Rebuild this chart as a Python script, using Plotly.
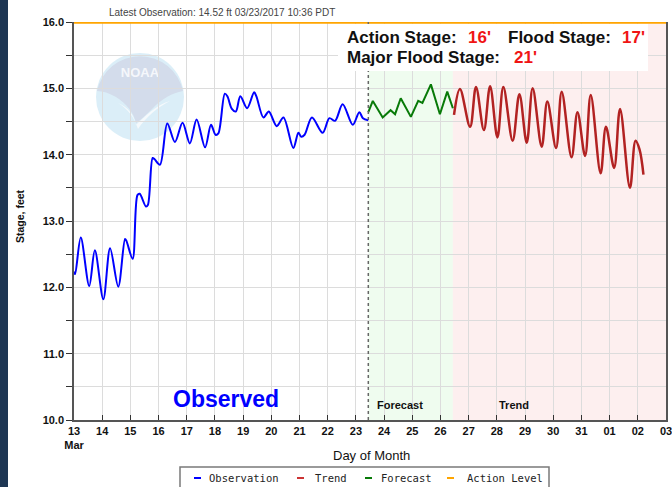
import base64
import pandas as pd
import plotly.graph_objects as go

# ---------------- data ----------------
base_date = pd.Timestamp("2017-03-13")

obs_day = [0.00, 0.04, 0.24, 0.54, 0.74, 1.04, 1.28, 1.57, 1.81, 1.86, 2.08, 2.25, 2.33,
           2.55, 2.62, 2.79, 2.86, 3.05, 3.31, 3.58, 3.85, 4.11, 4.35, 4.65, 4.86, 5.02,
           5.12, 5.35, 5.44, 5.60, 5.74, 5.90, 6.14, 6.39, 6.47, 6.72, 6.91, 7.19, 7.43,
           7.78, 7.96, 8.06, 8.18, 8.44, 8.82, 9.06, 9.26, 9.53, 9.89, 10.12, 10.25, 10.44]
obs_stage = [12.24, 12.20, 12.75, 12.02, 12.56, 11.82, 12.59, 12.01, 12.73, 12.70, 12.43,
             13.39, 13.41, 13.22, 13.24, 13.95, 13.93, 13.85, 14.47, 14.19, 14.48, 14.17,
             14.53, 14.11, 14.45, 14.30, 14.32, 14.92, 14.88, 14.69, 14.65, 14.88, 14.70,
             14.94, 14.88, 14.56, 14.65, 14.43, 14.56, 14.10, 14.33, 14.27, 14.30, 14.56,
             14.33, 14.55, 14.51, 14.76, 14.45, 14.64, 14.55, 14.52]

fc_day = [10.44, 10.60, 10.95, 11.23, 11.39, 11.59, 11.95, 12.21, 12.36, 12.66, 12.98, 13.24, 13.44]
fc_stage = [14.64, 14.81, 14.56, 14.67, 14.61, 14.85, 14.57, 14.81, 14.78, 15.06, 14.61, 14.95, 14.70]

tr_day = [13.48, 13.69, 14.05, 14.26, 14.54, 14.76, 15.02, 15.23, 15.56, 15.80, 16.06, 16.27,
          16.59, 16.79, 17.10, 17.30, 17.65, 17.86, 18.13, 18.33, 18.68, 18.87, 19.16, 19.37,
          19.72, 19.92, 20.06, 20.20]
tr_stage = [14.60, 14.99, 14.42, 15.02, 14.37, 15.03, 14.26, 15.02, 14.21, 14.91, 14.18, 15.00,
            14.12, 14.80, 14.10, 14.95, 13.96, 14.64, 13.98, 14.90, 13.72, 14.42, 13.80, 14.69,
            13.50, 14.21, 14.08, 13.70]

action_stage = 16
flood_stage = 17
major_flood_stage = 21
axis_days = 21  # Mar 13 -> Apr 3
tick_labels = ["13<br>Mar", "14", "15", "16", "17", "18", "19", "20", "21", "22", "23", "24",
               "25", "26", "27", "28", "29", "30", "31", "01", "02", "03"]
y_ticks = [10.0, 10.5, 11.0, 11.5, 12.0, 12.5, 13.0, 13.5, 14.0, 14.5, 15.0, 15.5, 16.0]


def to_dt(days):
    return [base_date + pd.Timedelta(days=d) for d in days]


x_end = base_date + pd.Timedelta(days=axis_days)
obs_end = to_dt([obs_day[-1]])[0]
fc_end = to_dt([fc_day[-1]])[0]

# ---------------- layout geometry (pixels) ----------------
W, H = 672, 487
L, R, T, B = 74, 6, 22, 67
PW, PH = W - L - R, H - T - B


def px(xp):
    return (xp - L) / PW


def py(yp):
    return (H - B - yp) / PH


fig = go.Figure()

fig.add_trace(go.Scatter(x=to_dt(obs_day), y=obs_stage, mode="lines", name="Observation",
                         line=dict(color="#0000ff", width=2, shape="spline", smoothing=0.9)))
fig.add_trace(go.Scatter(x=to_dt(fc_day), y=fc_stage, mode="lines", name="Forecast",
                         line=dict(color="#087a08", width=2)))
fig.add_trace(go.Scatter(x=to_dt(tr_day), y=tr_stage, mode="lines", name="Trend",
                         line=dict(color="#b22222", width=2.5, shape="spline", smoothing=1.0)))
fig.add_trace(go.Scatter(x=[base_date, x_end], y=[action_stage, action_stage], mode="lines",
                         name="Action Level", line=dict(color="#ffa500", width=3.5)))

shapes = []
shapes.append(dict(type="rect", xref="x", yref="paper", x0=obs_end, x1=fc_end, y0=0, y1=1,
                   fillcolor="#effcef", line=dict(width=0), layer="below"))
shapes.append(dict(type="rect", xref="x", yref="paper", x0=fc_end, x1=x_end, y0=0, y1=1,
                   fillcolor="#fdefef", line=dict(width=0), layer="below"))
shapes.append(dict(type="line", xref="x", yref="paper", x0=obs_end, x1=obs_end, y0=0, y1=1,
                   line=dict(color="#666666", width=1.5, dash="dot"), layer="above"))
shapes.append(dict(type="rect", xref="paper", yref="paper", x0=px(338), x1=px(648),
                   y0=py(71), y1=py(24), fillcolor="white", line=dict(width=0), layer="above"))
shapes.append(dict(type="rect", xref="paper", yref="paper", x0=px(0), x1=px(8),
                   y0=py(H), y1=py(0), fillcolor="#1e3653", line=dict(width=0), layer="above"))
shapes.append(dict(type="rect", xref="paper", yref="paper", x0=px(180), x1=px(549),
                   y0=py(492), y1=py(467), fillcolor="white",
                   line=dict(color="#7a7a7a", width=1.5), layer="above"))
leg_items = [("Observation", "#0000ff", 194, 207), ("Trend", "#cc3333", 297, 313),
             ("Forecast", "#087a08", 365, 379), ("Action Level", "#ffa500", 447, 465)]
for _, c, lx, _tx in leg_items:
    shapes.append(dict(type="line", xref="paper", yref="paper", x0=px(lx), x1=px(lx + 7),
                       y0=py(478), y1=py(478), line=dict(color=c, width=2), layer="above"))

annotations = []
for name, _, _lx, tx in leg_items:
    annotations.append(dict(xref="paper", yref="paper", x=px(tx), y=py(478), text=name,
                            showarrow=False, xanchor="left", yanchor="middle",
                            font=dict(family="DejaVu Sans Mono", size=10.5, color="#222")))

box_font = dict(family="Liberation Sans", size=17, color="#111", weight="bold")
red_font = dict(family="Liberation Sans", size=17, color="#f01414", weight="bold")
box_items = [
    ("Action Stage:", 345, 38, box_font),
    (f"{action_stage}'", 466, 38, red_font),
    ("Flood Stage:", 506, 38, box_font),
    (f"{flood_stage}'", 620, 38, red_font),
    ("Major Flood Stage:", 345, 58, box_font),
    (f"{major_flood_stage}'", 512, 58, red_font),
]
for txt, xx, yy, f in box_items:
    annotations.append(dict(xref="paper", yref="paper", x=px(xx), y=py(yy), text=txt,
                            showarrow=False, xanchor="left", yanchor="middle", font=f))

annotations += [
    dict(xref="paper", yref="paper", x=px(222), y=py(12),
         text="Latest Observation: 14.52 ft 03/23/2017 10:36 PDT", showarrow=False,
         xanchor="center", yanchor="middle",
         font=dict(family="Liberation Sans", size=10, color="#444")),
    dict(xref="paper", yref="paper", x=px(226), y=py(399), text="<b>Observed</b>",
         showarrow=False, xanchor="center", yanchor="middle",
         font=dict(family="Liberation Sans", size=23, color="#0000ff")),
    dict(xref="paper", yref="paper", x=px(400), y=py(405), text="<b>Forecast</b>",
         showarrow=False, xanchor="center", yanchor="middle",
         font=dict(family="Liberation Sans", size=11, color="#111")),
    dict(xref="paper", yref="paper", x=px(514), y=py(405), text="<b>Trend</b>",
         showarrow=False, xanchor="center", yanchor="middle",
         font=dict(family="Liberation Sans", size=11, color="#111")),
    dict(xref="paper", yref="paper", x=px(371), y=py(455), text="Day of Month",
         showarrow=False, xanchor="center", yanchor="middle",
         font=dict(family="Liberation Sans", size=13, color="#111")),
    dict(xref="paper", yref="paper", x=px(20), y=py(216), text="<b>Stage, feet</b>",
         showarrow=False, xanchor="center", yanchor="middle", textangle=-90,
         font=dict(family="Liberation Sans", size=10.5, color="#111")),
]

logo_svg = """<svg xmlns='http://www.w3.org/2000/svg' width='88' height='88' viewBox='0 0 88 88'>
<circle cx='44' cy='44' r='44' fill='#d5ecf7'/>
<path d='M1,38 A44,44 0 0 1 87,38 C76,40 66,46 58,54 C52,60 46,66 40,70 C38,60 30,50 20,44 C13,40 7,38 1,38 Z' fill='#ccd6e8'/>
<path d='M22,50 C32,54 38,62 40,72 C48,64 60,52 74,48 C62,54 50,64 42,76 C38,64 32,56 22,50 Z' fill='#f4f8fc'/>
<text x='44' y='24' text-anchor='middle' font-family='Liberation Sans, Arial' font-weight='bold' font-size='13' fill='#f4f6fb'>NOAA</text>
</svg>"""
logo_src = "data:image/svg+xml;base64," + base64.b64encode(logo_svg.encode()).decode()

fig.add_layout_image(dict(source=logo_src, xref="paper", yref="paper", x=px(96), y=py(53),
                          sizex=88 / PW, sizey=88 / PH, xanchor="left", yanchor="top",
                          sizing="stretch", layer="below", opacity=0.85))

fig.update_layout(
    width=W, height=H,
    margin=dict(l=L, r=R, t=T, b=B, autoexpand=False),
    paper_bgcolor="white", plot_bgcolor="white",
    shapes=shapes, annotations=annotations,
    showlegend=False,
)
fig.update_xaxes(
    type="date", range=[base_date, x_end], automargin=False, ticklabeloverflow="allow",
    tickvals=to_dt(list(range(axis_days + 1))), ticktext=tick_labels,
    ticks="inside", ticklen=5, tickcolor="#333", tickwidth=1,
    showgrid=True, gridcolor="#dcdcdc", gridwidth=1,
    showline=True, linecolor="#555", linewidth=1.5, mirror=False,
    tickfont=dict(family="Liberation Sans", size=11, color="#111", weight="bold"),
    zeroline=False, fixedrange=True,
)
fig.update_yaxes(
    range=[10, 16], tickvals=y_ticks, automargin=False,
    ticktext=[f"{v:.1f}" if v == int(v) else "" for v in y_ticks],
    ticks="outside", ticklen=6, tickcolor="#333", tickwidth=1,
    showgrid=True, gridcolor="#dcdcdc", gridwidth=1,
    showline=True, linecolor="#555", linewidth=1.5, mirror=True,
    tickfont=dict(family="Liberation Sans", size=11, color="#111", weight="bold"),
    zeroline=False, fixedrange=True,
)

fig.write_html(
    "out.html",
    config={"displayModeBar": False},
    post_script="document.body.style.margin='0';document.body.style.overflow='hidden';",
)
